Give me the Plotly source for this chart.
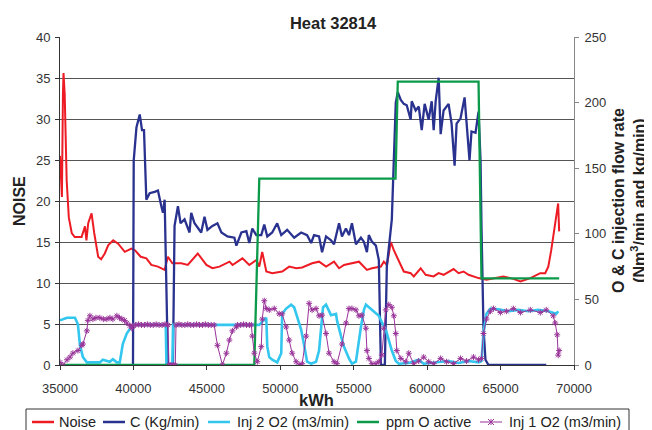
import plotly.graph_objects as go

# Noise (left axis)
noise_kwh = [35000, 35080, 35130, 35200, 35240, 35320, 35455, 35600, 35800, 36000, 36470, 36700, 36800, 36920,
             37150, 37330, 37600, 37800, 38050, 38280, 38620, 38960, 39410, 39860, 40100, 40300, 40500, 40880,
             41220, 41670, 42120, 42350, 42650, 43260, 43700, 44380, 44970, 45380, 45860, 46540, 46750, 47420,
             47890, 48370, 48570, 48770, 49050, 49450, 50130, 50610, 51080, 51490, 52170, 52640, 53120, 53660,
             54000, 54340, 54810, 55360, 55900, 56240, 56850, 57050, 57260, 57530, 57730, 58070, 58410, 58880,
             59090, 59560, 59900, 60440, 60780, 61120, 61800, 62140, 62480, 62820, 63500, 64040, 64720, 65190,
             65870, 66350, 67030, 67700, 68040, 68250, 68450, 68720, 68920, 68990]
noise_val = [25.5, 21.0, 20.5, 33.0, 35.6, 33.0, 22.5, 18.0, 16.1, 15.6, 15.6, 16.9, 15.2, 17.3,
             18.5, 16.1, 13.2, 12.9, 13.6, 14.6, 15.2, 14.8, 13.8, 14.2, 14.0, 13.6, 13.2, 13.0,
             12.2, 12.0, 11.6, 13.2, 12.4, 12.4, 12.2, 13.6, 12.2, 11.8, 12.0, 12.6, 12.2, 13.0,
             12.2, 12.8, 12.0, 13.8, 11.4, 11.2, 11.4, 12.0, 11.8, 11.9, 12.4, 12.6, 12.0, 12.6,
             11.8, 12.2, 12.4, 12.6, 11.6, 11.8, 12.0, 12.6, 12.2, 15.0, 14.0, 12.8, 11.4, 11.2,
             10.8, 11.8, 11.0, 10.8, 11.2, 11.0, 11.7, 11.2, 11.4, 11.0, 10.6, 10.4, 10.6, 10.8,
             10.5, 10.2, 10.6, 11.2, 11.2, 12.0, 14.0, 17.3, 19.7, 16.3]

# C (Kg/min) (right axis)
c_kwh = [39970, 40020, 40205, 40430, 40585, 40720, 40880, 41105, 41445, 41670, 41900, 42010, 42125, 42240,
         42350, 42690, 42800, 43030, 43210, 43480, 43820, 43935, 44160, 44615, 44840, 45040, 45380, 45720,
         45990, 46400, 46875, 47010, 47350, 47690, 47890, 48095, 48365, 48705, 48910, 49115, 49450, 49790,
         50065, 50470, 50945, 51420, 51825, 52100, 52300, 52640, 52845, 53115, 53455, 53660, 54000, 54200,
         54470, 54680, 54880, 55150, 55490, 55690, 55900, 56030, 56240, 56510, 56710, 56850, 57120, 57255,
         57460, 57595, 57730, 57865, 58000, 58205, 58410, 58610, 58880, 58950, 59220, 59430, 59630, 59830,
         60105, 60310, 60445, 60580, 60785, 60920, 61120, 61460, 61665, 61870, 62005, 62275, 62550, 62685,
         62885, 63020, 63295, 63500, 63635, 63700, 63835, 63970, 64175, 68110]
c_val = [0, 156, 181, 191, 179, 179, 126, 131, 132, 133, 121, 116, 126, 55,
         0, 0, 106, 121, 108, 111, 101, 116, 108, 101, 113, 103, 106, 108,
         101, 98, 97, 91, 101, 102, 93, 104, 99, 99, 107, 98, 101, 108,
         99, 103, 97, 101, 99, 93, 99, 98, 86, 98, 95, 92, 108, 98,
         104, 99, 108, 92, 97, 94, 86, 99, 94, 91, 80, 0, 0, 75,
         99, 111, 156, 200, 208, 202, 199, 198, 187, 201, 194, 197, 179, 199,
         187, 201, 179, 201, 219, 176, 194, 199, 184, 152, 184, 188, 204, 184,
         156, 178, 177, 193, 156, 106, 29, 4, 0, 0]

# Inj 2 O2 (m3/min) (right axis)
inj2_kwh = [35000, 35475, 36020, 36220, 36360, 36560, 36830, 37170, 37710, 37920, 38390, 38600, 38870, 39070,
            39275, 39545, 39750, 39950, 42200, 42250, 42650, 42700, 48230, 48570, 48775, 49045, 49115, 49250,
            49450, 49790, 50065, 50130, 50400, 50740, 50945, 51150, 51420, 51625, 51825, 52100, 52435, 52640,
            52775, 52910, 53115, 53455, 53795, 53860, 54135, 54335, 54675, 54880, 55150, 55285, 55490, 55695,
            55830, 56035, 56375, 56710, 56915, 57185, 57390, 57595, 57865, 58070, 58750, 59425, 59765, 60785,
            61460, 62140, 62820, 63500, 63700, 63835, 64040, 64310, 64855, 65535, 66210, 66890, 67570, 68245,
            68790, 68925]
inj2_val = [34, 36, 36, 31, 15, 6, 2, 2, 2, 4, 2.5, 4.4, 2, 2,
            16, 24, 27.5, 30.6, 30.6, 0, 0, 30.6, 30.6, 30.6, 33, 36, 14, 6,
            4, 2, 9, 39, 43, 46, 44, 36, 27, 15, 2.5, 1, 2.5, 11,
            29, 44, 46, 38, 39, 34, 22, 14, 5, 1, 2.5, 14, 29, 42,
            46, 44, 41, 37.5, 32.5, 27, 19, 11, 3, 1, 1.5, 4, 1, 2,
            3, 1.5, 3, 2, 3, 24, 39, 43, 42.5, 41, 42, 41, 42, 41,
            39, 41]

# ppm O active (right axis)
ppm_kwh = [35000, 48230, 48570, 57845, 58000, 63500, 63700, 68990]
ppm_val = [0, 0, 142, 142, 216, 216, 66, 66]

# Inj 1 O2 (m3/min) (right axis)
inj1_kwh = [35000, 35200, 35480, 35680, 35880, 36220, 36490, 36560, 36830, 36900, 37040, 37240, 37450, 37710,
            37950, 38190, 38400, 38600, 38870, 39050, 39210, 39400, 39550, 39750, 39890, 39950, 40150, 40350,
            40550, 40750, 40950, 41150, 41350, 41550, 41750, 41950, 42150, 42350, 42420, 42550, 42700, 42850,
            42900, 43100, 43300, 43500, 43700, 43900, 44100, 44300, 44500, 44700, 44900, 45100, 45300, 45500,
            45720, 46060, 46330, 46535, 46740, 47010, 47080, 47300, 47500, 47700, 47900, 48030, 48095, 48230,
            48435, 48705, 48775, 48910, 49045, 49250, 49590, 49925, 50130, 50400, 50605, 50810, 51080, 51285,
            51490, 51760, 51965, 52165, 52435, 52640, 52845, 53115, 53320, 53660, 53860, 54200, 54475, 54675,
            54880, 55150, 55355, 55560, 55830, 55900, 56035, 56235, 56510, 56710, 56915, 57050, 57185, 57390,
            57595, 57730, 57865, 57935, 58205, 58545, 58750, 59085, 59425, 59765, 60105, 60445, 60920, 61325,
            61800, 62275, 62685, 63160, 63500, 63700, 63835, 64040, 64310, 64515, 64990, 65395, 65870, 66350,
            67025, 67705, 68110, 68585, 68720, 68855, 68925, 68990]
inj1_val = [2, 0, 4, 6, 9, 11, 15, 16, 26, 34, 37.5, 35, 36, 36,
            35, 35, 36, 35, 37.5, 36, 35, 34, 32, 30, 28, 30, 30.5, 31,
            30.5, 30.5, 31, 30.5, 30.5, 31, 30.5, 30.5, 31, 30.5, 0, 0, 0, 0,
            30.5, 31, 30.5, 30.5, 31, 30.5, 30.5, 31, 30.5, 30.5, 31, 30.5, 30.5, 30.5,
            15, 0, 9, 19, 26, 29, 30.5, 30.5, 31, 30.5, 30.5, 30.5, 22, 9,
            2.5, 14, 35, 49, 43, 42, 43, 39, 39, 29, 19, 9, 2.5, 0,
            1, 22, 47, 42, 43, 37.5, 38, 24, 9, 2.5, 1, 16, 32, 43,
            43, 42, 37.5, 38, 28, 11, 5, 1, 1, 2.5, 7.5, 28, 42, 46,
            44, 37.5, 24, 11, 5, 2.5, 9, 1, 3, 6, 2.5, 1, 5, 2.5,
            1, 5, 3, 6, 4, 5, 24, 35, 41, 43, 40, 41, 43, 40,
            42, 40, 42, 37.5, 32, 23, 7.5, 11]

FONT = "Liberation Sans, Arial, sans-serif"
TXT = "#222222"

# the page body has an 8px margin, so the figure is drawn 8px in from the window corner
OFF = 8
FIG_W, FIG_H = 652 - OFF, 430 - OFF
# plot area in window pixels
L, T, W, H = 60, 37, 514, 328


def px(x):
    return (x - L) / W


def py(y):
    return (T + H - y) / H


series = [
    dict(name="Noise", x=noise_kwh, y=noise_val, axis="y", color="#ED1C24", width=2),
    dict(name="C (Kg/min)", x=c_kwh, y=c_val, axis="y2", color="#2A3290", width=2.3),
    dict(name="Inj 2 O2 (m3/min)", x=inj2_kwh, y=inj2_val, axis="y2", color="#33C6EE", width=2.6),
    dict(name="ppm O active", x=ppm_kwh, y=ppm_val, axis="y2", color="#0B9A4A", width=2.3),
    dict(name="Inj 1 O2 (m3/min)", x=inj1_kwh, y=inj1_val, axis="y2", color="#993399", width=1),
]

fig = go.Figure()
for s in series:
    marker = None
    mode = "lines"
    if s["name"].startswith("Inj 1"):
        mode = "lines+markers"
        marker = dict(symbol="asterisk-open", size=5, color=s["color"],
                      line=dict(color=s["color"], width=1))
    fig.add_trace(go.Scatter(x=s["x"], y=s["y"], name=s["name"], mode=mode, yaxis=s["axis"],
                             line=dict(color=s["color"], width=s["width"]), marker=marker))

# hand-drawn legend box at the bottom (cut by the page edge as in the original)
leg_y = 422
leg_items = [(32, 57), (103, 128), (208, 235), (357, 384), (480, 507)]
shapes = [dict(type="rect", xref="paper", yref="paper", x0=px(26), x1=px(629), y0=py(409), y1=py(442),
               line=dict(color="#333333", width=1), fillcolor="white", layer="above")]
annotations = []
for s, (x0, xt) in zip(series, leg_items):
    shapes.append(dict(type="line", xref="paper", yref="paper", x0=px(x0), x1=px(x0 + 22),
                       y0=py(leg_y), y1=py(leg_y),
                       line=dict(color=s["color"], width=2.5 if s["width"] > 1 else 1)))
    annotations.append(dict(text=s["name"], xref="paper", yref="paper", x=px(xt), y=py(leg_y),
                            xanchor="left", yanchor="middle", showarrow=False,
                            font=dict(size=14.5, color=TXT)))
# star marker on the purple legend line
mx = 491
shapes.append(dict(type="path", xref="paper", yref="paper", line=dict(color="#993399", width=1),
                   path=f"M {px(mx - 3)},{py(leg_y - 3)} L {px(mx + 3)},{py(leg_y + 3)} "
                        f"M {px(mx - 3)},{py(leg_y + 3)} L {px(mx + 3)},{py(leg_y - 3)} "
                        f"M {px(mx)},{py(leg_y - 3)} L {px(mx)},{py(leg_y + 3)}"))

# axis titles
annotations += [
    dict(text="<b>NOISE</b>", xref="paper", yref="paper", x=px(19), y=0.5, textangle=-90,
         xanchor="center", yanchor="middle", showarrow=False, font=dict(size=16, color=TXT)),
    dict(text="<b>O & C injection flow rate<br>(Nm<sup>3</sup>/min and kg/min)</b>", xref="paper",
         yref="paper", x=px(629), y=0.5, textangle=-90, xanchor="center", yanchor="middle",
         showarrow=False, font=dict(size=16, color=TXT)),
    dict(text="<b>kWh</b>", xref="paper", yref="paper", x=px(316), y=py(400), xanchor="center",
         yanchor="middle", showarrow=False, font=dict(size=16.5, color=TXT)),
]

fig.update_layout(
    width=FIG_W, height=FIG_H,
    margin=dict(l=L - OFF, r=FIG_W - (L - OFF) - W, t=T - OFF, b=FIG_H - (T - OFF) - H),
    paper_bgcolor="white", plot_bgcolor="white",
    font=dict(family=FONT, size=13, color="#333333"),
    title=dict(text="<b>Heat 32814</b>", x=(333 - OFF) / FIG_W, xanchor="center",
               y=1 - (23 - OFF) / FIG_H, yanchor="middle", font=dict(size=16.5, color=TXT)),
    showlegend=False,
    shapes=shapes,
    annotations=annotations,
    xaxis=dict(range=[35000, 70000], dtick=5000, showgrid=False, zeroline=False, automargin=False,
               showline=True, linecolor="#333333", linewidth=1, ticks="outside", ticklen=4,
               tickcolor="#333333", tickformat="d", ticklabelstandoff=7),
    yaxis=dict(range=[0, 40], dtick=5, showgrid=True, gridcolor="#555555", gridwidth=1, automargin=False,
               zeroline=False, showline=True, linecolor="#333333", linewidth=1,
               ticks="outside", ticklen=4, tickcolor="#333333", ticklabelstandoff=2),
    yaxis2=dict(range=[0, 250], dtick=50, overlaying="y", side="right", showgrid=False, automargin=False,
                zeroline=False, showline=True, linecolor="#888888", linewidth=1,
                ticks="outside", ticklen=4, tickcolor="#888888", ticklabelstandoff=3),
)

fig.write_html("out.html")
